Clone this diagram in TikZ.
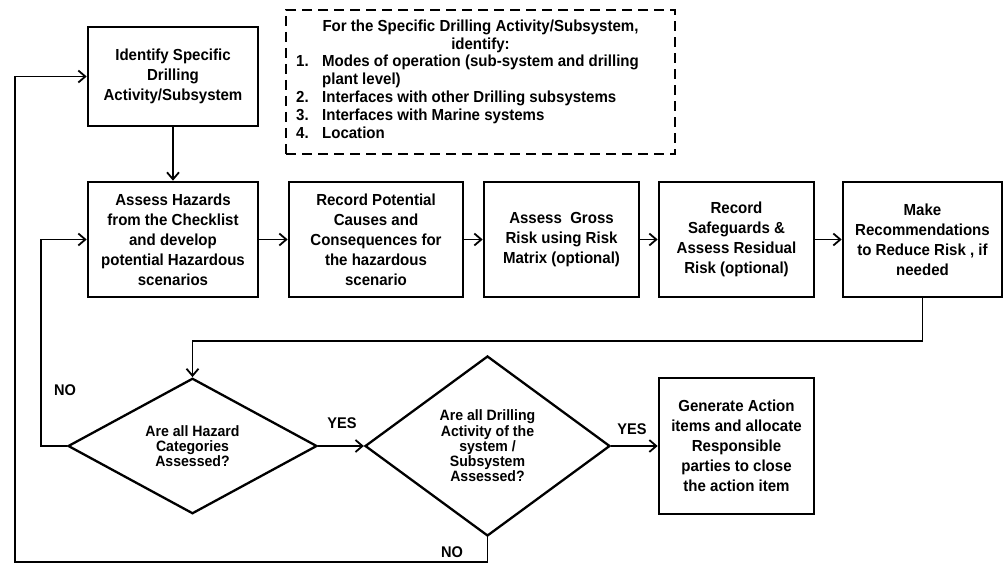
\documentclass[tikz,border=0pt]{standalone}
\usepackage{fontspec}
\setmainfont{Liberation Sans}[FakeStretch=0.94]
\usetikzlibrary{arrows.meta,shapes.geometric}
\tikzset{
  procbox/.style={draw, line width=2.6pt, align=center, inner sep=0pt,
    font=\fontsize{16}{20}\selectfont\bfseries},
  decision/.style={draw, diamond, line width=2.3pt, align=center, inner sep=0pt,
    font=\fontsize{15}{15.2}\selectfont\bfseries},
  notebox/.style={draw, line width=2.4pt, dash pattern=on 10pt off 6pt, align=center,
    inner sep=0pt, font=\fontsize{16}{18}\selectfont\bfseries},
  lbl/.style={font=\fontsize{15.5}{16}\selectfont\bfseries, inner sep=0pt},
  conn/.style={line width=1.8pt, -{Straight Barb[length=7pt,width=12pt,line width=1.8pt]}},
  plainconn/.style={line width=1.8pt}
}
\begin{document}
\begin{tikzpicture}[x=1pt,y=-1pt]
\useasboundingbox (0,0) rectangle (1005,564);

\node[procbox, minimum width=170, minimum height=99] (ident) at (173,76.5)
  {Identify Specific\\Drilling\\Activity/Subsystem};

\node[notebox, minimum width=389, minimum height=144] (note) at (480.5,82)
  {For the Specific Drilling Activity/Subsystem,\\identify:\\
   \begin{tabular}{@{}p{26pt}@{}l@{}}
   1. & Modes of operation (sub-system and drilling\\
      & plant level)\\
   2. & Interfaces with other Drilling subsystems\\
   3. & Interfaces with Marine systems\\
   4. & Location
   \end{tabular}\hspace*{26pt}};

\node[procbox, minimum width=170, minimum height=115] (hz) at (173,239.5)
  {Assess Hazards\\from the Checklist\\and develop\\potential Hazardous\\scenarios};
\node[procbox, minimum width=174, minimum height=115] (rc) at (376,239.5)
  {Record Potential\\Causes and\\Consequences for\\the hazardous\\scenario};
\node[procbox, minimum width=155, minimum height=115] (gr) at (561.5,239.5)
  {Assess\ \ Gross\\Risk using Risk\\Matrix (optional)};
\node[procbox, minimum width=155, minimum height=115] (sg) at (736.5,239.5)
  {Record\\Safeguards \&\\Assess Residual\\Risk (optional)};
\node[procbox, minimum width=159, minimum height=115] (mk) at (922.5,239.5)
  {Make\\Recommendations\\to Reduce Risk , if\\needed};

\node[decision, minimum width=249, minimum height=126] (d1) at (192.5,446)
  {Are all Hazard\\Categories\\Assessed?};
\node[decision, minimum width=245, minimum height=180] (d2) at (487.5,446)
  {Are all Drilling\\Activity of the\\system /\\Subsystem\\Assessed?};

\node[procbox, minimum width=155, minimum height=136] (ga) at (736.5,446)
  {Generate Action\\items and allocate\\Responsible\\parties to close\\the action item};

\node[lbl] (no1) at (65,390) {NO};
\node[lbl] (yes1) at (342,423) {YES};
\node[lbl] (yes2) at (632,429) {YES};
\node[lbl] (no2) at (452,552) {NO};

\coordinate (yrow) at (0,341);
\coordinate (bl) at (15,562);

\draw[conn] (ident.south) -- (hz.north);
\draw[conn] (hz.east) -- (rc.west);
\draw[conn] (rc.east) -- (gr.west);
\draw[conn] (gr.east) -- (sg.west);
\draw[conn] (sg.east) -- (mk.west);
\draw[conn] (mk.south) |- (d1.north |- yrow) -- (d1.north);
\draw[conn] (d1.east) -- (d2.west);
\draw[conn] (d2.east) -- (ga.west);
\draw[conn] (d1.west) -- ++(-26,0) |- (hz.west);
\draw[conn] (d2.south) |- (bl) |- (ident.west);
\end{tikzpicture}
\end{document}
